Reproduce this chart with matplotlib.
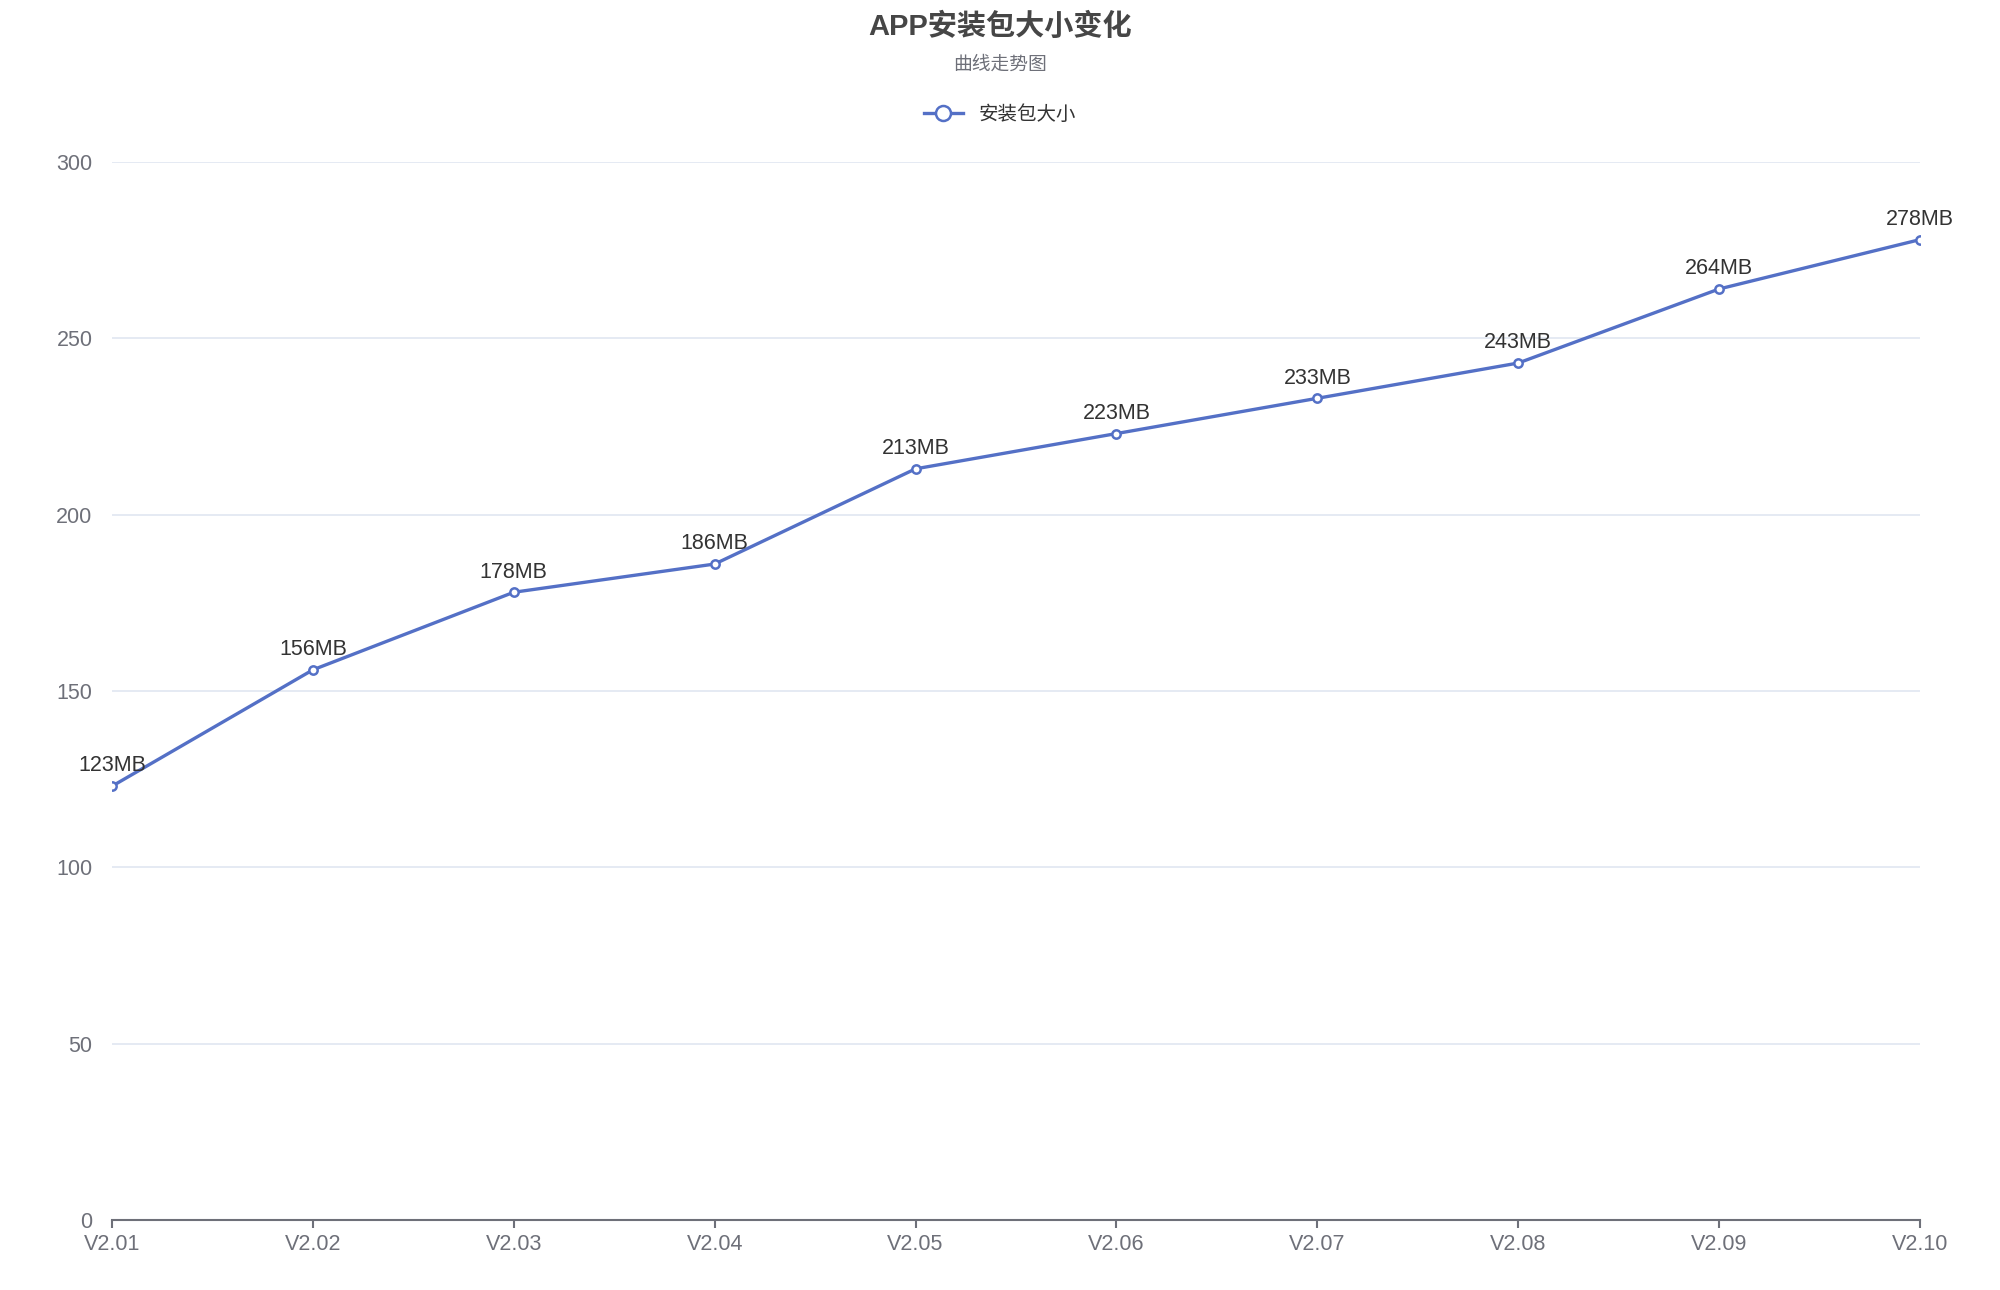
import matplotlib
matplotlib.use('Agg')
import matplotlib.pyplot as plt

plt.rcParams['font.family'] = ['Liberation Sans', 'Noto Sans CJK SC']

versions = ['V2.01', 'V2.02', 'V2.03', 'V2.04', 'V2.05', 'V2.06', 'V2.07', 'V2.08', 'V2.09', 'V2.10']
sizes = [123, 156, 178, 186, 213, 223, 233, 243, 264, 278]
yticks = [0, 50, 100, 150, 200, 250, 300]

fig = plt.figure(figsize=(20, 12.9), dpi=100)
ax = fig.add_axes([0.056, 0.0543, 0.904, 0.8201])

x = list(range(len(versions)))
ax.plot(x, sizes, color='#5470c6', lw=2.4, marker='o', markersize=6,
        markerfacecolor='white', markeredgecolor='#5470c6', markeredgewidth=1.8,
        label='安装包大小', zorder=3)
for xi, v in zip(x, sizes):
    ax.annotate(f'{v}MB', (xi, v), textcoords='offset points', xytext=(0, 7),
                ha='center', va='bottom', fontsize=15.5, color='#333333')

ax.set_xlim(0, len(versions) - 1)
ax.set_ylim(0, 300)
ax.set_yticks(yticks)
ax.set_xticks(x)
ax.set_xticklabels(versions)
ax.grid(axis='y', color='#e0e6f1', lw=1.2)
ax.set_axisbelow(True)
for s in ['top', 'right', 'left']:
    ax.spines[s].set_visible(False)
ax.spines['bottom'].set_color('#6e7079')
ax.spines['bottom'].set_linewidth(1.5)
ax.tick_params(axis='y', length=0, pad=14, labelsize=15.5, labelcolor='#6e7079')
ax.tick_params(axis='x', length=6, width=1.5, color='#6e7079', pad=4, labelsize=15.5, labelcolor='#6e7079')

fig.text(0.5, 0.9795, 'APP安装包大小变化', ha='center', va='center', fontsize=21,
         fontweight='bold', color='#464646')
fig.text(0.5, 0.950, '曲线走势图', ha='center', va='center', fontsize=13.5, color='#6e7079')
fig.legend(loc='center', bbox_to_anchor=(0.5, 0.911), frameon=False, fontsize=14,
           handlelength=2.0, markerscale=1.8, labelcolor='#333333')

plt.savefig('out.png', dpi=100)
